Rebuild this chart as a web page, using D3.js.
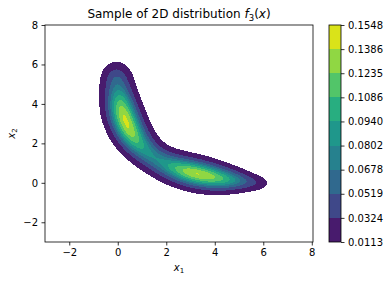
<!DOCTYPE html>
<html>
<head>
<meta charset="utf-8">
<script src="https://cdn.jsdelivr.net/npm/d3@7"></script>
<style>
  body { margin: 0; background: #fff; }
  svg { font-family: "DejaVu Sans", sans-serif; }
  .tick text { font-size: 10px; fill: #000; }
</style>
</head>
<body>
<svg width="389" height="282"></svg>
<script>
// contour levels as printed on the colorbar
const levels = [0.0113, 0.0324, 0.0519, 0.0678, 0.0802, 0.0940, 0.1086, 0.1235, 0.1386, 0.1548];
const levelLabels = ["0.0113", "0.0324", "0.0519", "0.0678", "0.0802", "0.0940", "0.1086", "0.1235", "0.1386", "0.1548"];
const xTicks = [-2, 0, 2, 4, 6, 8];
const yTicks = [-2, 0, 2, 4, 6, 8];

// ridge of the banana shaped density (centre, weight, spread)
const ridgeX = [-0.07, -0.05, -0.02, 0.03, 0.10, 0.18, 0.30, 0.45, 0.62, 0.85, 1.15, 1.50, 1.95, 2.40, 2.85, 3.30, 3.75, 4.20, 4.65, 5.10, 5.55, 5.95];
const ridgeY = [5.85, 5.45, 5.00, 4.55, 4.10, 3.65, 3.20, 2.75, 2.35, 1.95, 1.60, 1.25, 0.95, 0.75, 0.57, 0.45, 0.32, 0.22, 0.15, 0.08, 0.02, -0.02];
const ridgeW = [0.0080, 0.0260, 0.0300, 0.0380, 0.0516, 0.0620, 0.0662, 0.0620, 0.0534, 0.0449, 0.0385, 0.0363, 0.0397, 0.0490, 0.0592, 0.0632, 0.0605, 0.0539, 0.0449, 0.0337, 0.0224, 0.0120];
const ridgeS = [0.33, 0.38, 0.40, 0.40, 0.40, 0.42, 0.42, 0.42, 0.42, 0.42, 0.42, 0.42, 0.43, 0.44, 0.44, 0.44, 0.43, 0.40, 0.36, 0.32, 0.28, 0.25];

const svg = d3.select("svg");
const margin = {left: 45, right: 313, top: 25, bottom: 242};

const x = d3.scaleLinear().domain([-3, 8.05]).range([margin.left, margin.right]);
const y = d3.scaleLinear().domain([-3, 8]).range([margin.bottom, margin.top]);

// density on a grid
const step = 0.05;
const n = Math.round(11.1 / step) + 1;
const m = Math.round(11 / step) + 1;
const values = new Float64Array(n * m);
for (let j = 0; j < m; j++) {
    for (let i = 0; i < n; i++) {
        const px = -3 + i * step, py = -3 + j * step;
        let v = 0;
        for (let k = 0; k < ridgeX.length; k++) {
            const dx = px - ridgeX[k], dy = py - ridgeY[k];
            v += ridgeW[k] * Math.exp(-(dx * dx + dy * dy) / (2 * ridgeS[k] * ridgeS[k]));
        }
        values[j * n + i] = v;
    }
}

const lo = levels[0], hi = levels[levels.length - 1];
const color = (i) => d3.interpolateViridis(((levels[i] + levels[i + 1]) / 2 - lo) / (hi - lo));

const path = d3.geoPath(d3.geoTransform({
    point: function (cx, cy) {
        this.stream.point(x(-3 + (cx - 0.5) * step), y(-3 + (cy - 0.5) * step));
    }
}));

svg.append("clipPath").attr("id", "clip")
    .append("rect")
    .attr("x", margin.left).attr("y", margin.top)
    .attr("width", margin.right - margin.left).attr("height", margin.bottom - margin.top);

const contours = d3.contours().size([n, m]).thresholds(levels.slice(0, -1))(values);

svg.append("g")
    .attr("clip-path", "url(#clip)")
    .selectAll("path")
    .data(contours)
    .join("path")
    .attr("d", path)
    .attr("fill", (d, i) => color(i))
    .attr("shape-rendering", "crispEdges");

// axes
const xAxis = svg.append("g")
    .attr("transform", `translate(0,${margin.bottom})`)
    .call(d3.axisBottom(x).tickValues(xTicks).tickSize(3.5).tickPadding(3.5).tickFormat(d => d < 0 ? "\u2212" + (-d) : d));
const yAxis = svg.append("g")
    .attr("transform", `translate(${margin.left},0)`)
    .call(d3.axisLeft(y).tickValues(yTicks).tickSize(3.5).tickPadding(3.5).tickFormat(d => d < 0 ? "\u2212" + (-d) : d));
[xAxis, yAxis].forEach(a => {
    a.select(".domain").remove();
    a.selectAll(".tick line").attr("stroke", "#000").attr("stroke-width", 0.8);
    a.attr("font-family", null).attr("font-size", null);
});

svg.append("rect")
    .attr("x", margin.left).attr("y", margin.top)
    .attr("width", margin.right - margin.left).attr("height", margin.bottom - margin.top)
    .attr("fill", "none").attr("stroke", "#000").attr("stroke-width", 0.8);

// title
const title = svg.append("text")
    .attr("x", (margin.left + margin.right) / 2).attr("y", 18)
    .attr("text-anchor", "middle").attr("font-size", 12);
title.append("tspan").text("Sample of 2D distribution ");
title.append("tspan").attr("font-style", "italic").text("f");
title.append("tspan").attr("font-size", 8.5).attr("dy", 2.5).text("3");
title.append("tspan").attr("dy", -2.5).text("(");
title.append("tspan").attr("font-style", "italic").text("x");
title.append("tspan").text(")");

// axis labels
const xl = svg.append("text")
    .attr("x", (margin.left + margin.right) / 2).attr("y", 271)
    .attr("text-anchor", "middle").attr("font-size", 10);
xl.append("tspan").attr("font-style", "italic").text("x");
xl.append("tspan").attr("font-size", 7).attr("dy", 2).text("1");

const yl = svg.append("text")
    .attr("transform", `translate(14.5,${(margin.top + margin.bottom) / 2}) rotate(-90)`)
    .attr("text-anchor", "middle").attr("font-size", 10);
yl.append("tspan").attr("font-style", "italic").text("x");
yl.append("tspan").attr("font-size", 7).attr("dy", 2).text("2");

// colorbar
const cb = {x0: 329, x1: 341};
const cbScale = d3.scalePoint().domain(d3.range(levels.length)).range([margin.bottom, margin.top]);
svg.append("g").selectAll("rect")
    .data(d3.range(levels.length - 1))
    .join("rect")
    .attr("x", cb.x0)
    .attr("y", i => cbScale(i + 1))
    .attr("width", cb.x1 - cb.x0)
    .attr("height", i => cbScale(i) - cbScale(i + 1))
    .attr("fill", i => color(i))
    .attr("shape-rendering", "crispEdges");
svg.append("rect")
    .attr("x", cb.x0).attr("y", margin.top)
    .attr("width", cb.x1 - cb.x0).attr("height", margin.bottom - margin.top)
    .attr("fill", "none").attr("stroke", "#000").attr("stroke-width", 0.8);
svg.append("g")
    .attr("transform", `translate(${cb.x1},0)`)
    .call(d3.axisRight(cbScale).tickSize(3.5).tickPadding(3.5).tickFormat(i => levelLabels[i]))
    .call(g => g.select(".domain").remove())
    .call(g => g.selectAll(".tick line").attr("stroke", "#000").attr("stroke-width", 0.8))
    .attr("font-family", null).attr("font-size", null);
</script>
</body>
</html>
